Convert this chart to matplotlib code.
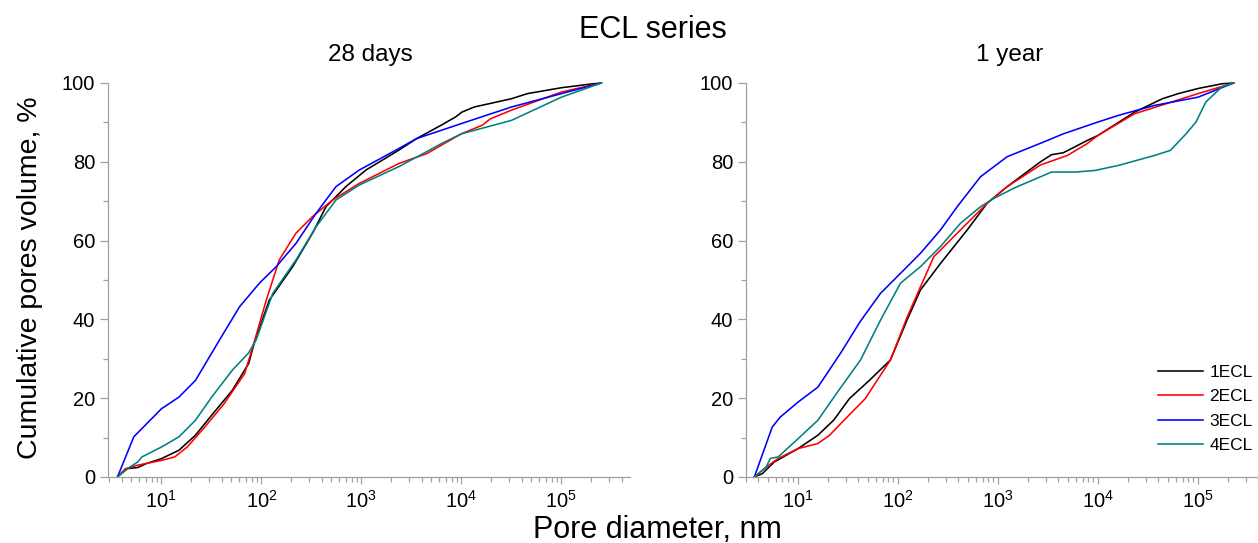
import numpy as np
import matplotlib
matplotlib.use('Agg')
import matplotlib.pyplot as plt
from matplotlib.ticker import FixedLocator, LogLocator, MultipleLocator, FuncFormatter

plt.rcParams['font.family'] = ['Liberation Sans', 'DejaVu Sans']
plt.rcParams['mathtext.fontset'] = 'custom'
plt.rcParams['mathtext.rm'] = 'Liberation Sans'
plt.rcParams['mathtext.it'] = 'Liberation Sans:italic'
plt.rcParams['mathtext.default'] = 'regular'

labels = ['1ECL', '2ECL', '3ECL', '4ECL']
colors = ['black', '#ff0000', '#0000ff', '#008080']

# ---- 28 days : pore diameter (nm) / cumulative pores volume (%)
d28_1 = [3.64, 4.4, 5.8, 7.05, 10, 15, 21.9, 31.9, 51.2, 74.6, 85, 120, 206, 325, 443, 700,
         1109, 2383, 3573, 6295, 8770, 10100, 13400, 31600, 45700, 1e5, 2.07e5, 2.51e5]
v28_1 = [0, 2.1, 2.4, 3.4, 4.65, 6.8, 10.6, 15.7, 22.0, 28.8, 34.0, 44.9, 53.4, 61.9, 68.6, 73.7,
         77.9, 83.0, 85.9, 89.3, 91.4, 92.6, 93.9, 96.0, 97.3, 98.8, 99.8, 100]

d28_2 = [3.64, 4.4, 5.8, 10, 13.6, 18.1, 26.4, 42.4, 67.9, 82, 112, 151, 222, 325, 515, 951,
         2383, 4530, 6295, 10000, 16200, 19500, 31600, 1e5, 2.51e5]
v28_2 = [0, 2.1, 3.0, 4.2, 5.1, 7.6, 12.3, 18.6, 26.2, 33.0, 44.9, 55.1, 61.9, 66.1, 70.3, 74.5,
         79.6, 82.1, 84.2, 87.1, 89.3, 90.9, 93.1, 97.7, 100]

d28_3 = [3.64, 5.3, 10, 15, 21.9, 38.2, 60.5, 95.7, 141, 222, 352, 557, 951, 2383, 3573,
         10000, 31600, 1e5, 2.51e5]
v28_3 = [0, 10.2, 17.3, 20.3, 24.5, 34.8, 43.2, 49.2, 53.4, 59.3, 66.9, 73.7, 77.9, 83.4, 85.9,
         89.7, 93.9, 97.3, 100]

d28_4 = [3.64, 4.83, 5.8, 6.4, 10, 15, 21.9, 31.9, 51.2, 74.6, 88.7, 130, 222, 352, 557, 951,
         2383, 3573, 6295, 10000, 31600, 1e5, 2.51e5]
v28_4 = [0, 2.5, 3.8, 5.1, 7.6, 10.2, 14.4, 20.3, 27.1, 31.5, 34.8, 46.6, 55.1, 63.5, 70.3, 74.1,
         78.8, 81.2, 84.6, 87.1, 90.5, 96.4, 100]

# ---- 1 year
d1y_1 = [3.66, 4.4, 5.78, 10, 15.8, 22.7, 32.7, 51.6, 84, 124, 168, 266, 492, 780, 1236, 2660,
         3425, 4500, 7780, 10000, 23200, 44000, 63400, 1e5, 1.73e5, 2.27e5]
v1y_1 = [0, 0.85, 3.8, 7.2, 10.6, 14.4, 19.9, 24.5, 29.7, 40.0, 47.5, 54.2, 62.7, 69.5, 73.7, 80.0,
         81.8, 82.3, 85.4, 86.7, 92.6, 96.0, 97.3, 98.6, 99.8, 100]

d1y_2 = [3.66, 4.8, 6.34, 10, 15.8, 20.7, 29.9, 47.1, 84, 124, 168, 228, 361, 573, 780, 1236,
         2660, 4930, 7780, 10000, 23200, 1e5, 2.27e5]
v1y_2 = [0, 2.5, 4.7, 7.2, 8.5, 10.6, 14.8, 19.9, 29.7, 40.7, 48.3, 55.9, 61.0, 66.1, 69.5, 73.7,
         79.2, 81.6, 84.6, 86.7, 92.2, 97.3, 100]

d1y_3 = [3.66, 5.53, 6.64, 10, 15.8, 26.6, 42, 66.8, 106, 168, 266, 391, 668, 1236, 2660, 4500,
         10000, 16100, 36600, 1e5, 2.27e5]
v1y_3 = [0, 12.7, 15.2, 19.0, 22.8, 31.4, 39.5, 46.6, 51.7, 56.8, 62.7, 68.6, 76.2, 81.3, 84.7, 87.1,
         90.1, 91.8, 94.3, 96.4, 100]

d1y_4 = [3.66, 4.8, 5.28, 6.34, 10, 15.8, 24.9, 42.2, 66.8, 106, 168, 266, 422, 668, 908, 1439,
         2660, 3425, 5920, 9330, 16100, 36600, 52900, 76000, 95500, 120000, 1.73e5, 2.27e5]
v1y_4 = [0, 2.5, 4.7, 5.1, 9.7, 14.4, 21.6, 29.7, 39.8, 49.2, 53.4, 58.5, 64.4, 68.6, 70.7, 73.3,
         76.2, 77.4, 77.4, 77.8, 79.1, 81.6, 82.9, 87.1, 90.1, 95.2, 99.0, 100]

panels = [
    ('28 days', [(d28_1, v28_1), (d28_2, v28_2), (d28_3, v28_3), (d28_4, v28_4)]),
    ('1 year', [(d1y_1, v1y_1), (d1y_2, v1y_2), (d1y_3, v1y_3), (d1y_4, v1y_4)]),
]

W, H = 1258, 543
fig = plt.figure(figsize=(W / 100, H / 100), dpi=100)
ax_left = fig.add_axes([107.6 / W, 1 - 477 / H, 522.8 / W, 394 / H])
ax_right = fig.add_axes([745.7 / W, 1 - 477 / H, 522.2 / W, 394 / H])
axes = [ax_left, ax_right]
xlims = [(2.9, 4.9e5), (3.0, 5e5)]
spine_col = '#a0a0a0'


def sci_label(x, pos):
    return r'$10^{%d}$' % int(round(np.log10(x)))


for ax, (title, series), xl in zip(axes, panels, xlims):
    for (d, v), lab, col in zip(series, labels, colors):
        ax.plot(d, v, color=col, lw=1.15, label=lab, clip_on=False)
    ax.set_xscale('log')
    ax.set_xlim(*xl)
    ax.set_ylim(0, 100)
    ax.xaxis.set_major_locator(FixedLocator([1e1, 1e2, 1e3, 1e4, 1e5]))
    ax.xaxis.set_major_formatter(FuncFormatter(sci_label))
    ax.xaxis.set_minor_locator(LogLocator(base=10, subs=np.arange(2, 10), numticks=30))
    ax.yaxis.set_major_locator(MultipleLocator(20))
    ax.yaxis.set_minor_locator(MultipleLocator(10))
    for s in ['top', 'right']:
        ax.spines[s].set_visible(False)
    for s in ['left', 'bottom']:
        ax.spines[s].set_color(spine_col)
        ax.spines[s].set_linewidth(0.9)
    ax.tick_params(which='major', length=6, width=0.9, color=spine_col, labelsize=14.5, pad=3)
    ax.tick_params(which='minor', length=3.5, width=0.9, color=spine_col)
    ax.tick_params(axis='x', which='major', length=5, pad=4)

fig.text(653 / W, 1 - 30 / H, 'ECL series', ha='center', va='center', fontsize=22)
fig.text(370 / W, 1 - 55 / H, '28 days', ha='center', va='center', fontsize=17.5)
fig.text(1010 / W, 1 - 55 / H, '1 year', ha='center', va='center', fontsize=17.5)
fig.text(30 / W, 1 - 278 / H, 'Cumulative pores volume, %', ha='center', va='center',
         rotation=90, fontsize=20.5)
fig.text(657 / W, 1 - 530 / H, 'Pore diameter, nm', ha='center', va='center', fontsize=22)

ax_right.legend(loc='center left', bbox_to_anchor=(1158 / W, 1 - 409 / H),
                bbox_transform=fig.transFigure, frameon=False, fontsize=12.5,
                handlelength=2.6, handletextpad=0.35, labelspacing=0.53,
                borderpad=0, borderaxespad=0)

fig.savefig('out.png', dpi=100)
